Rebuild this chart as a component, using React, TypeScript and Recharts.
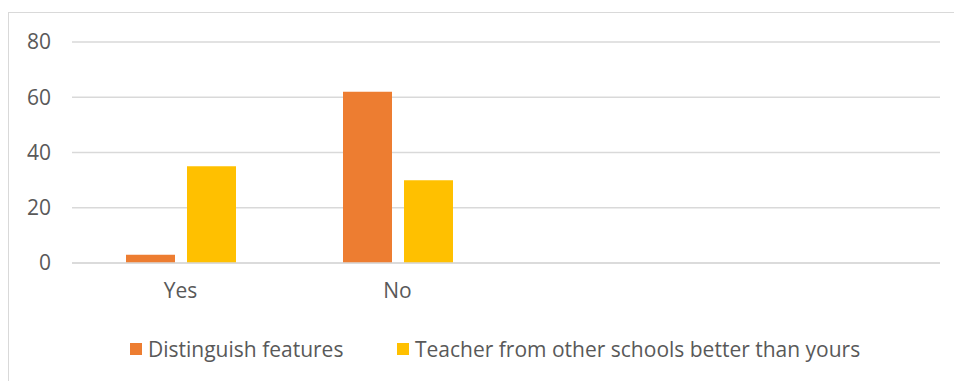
import React from "react";
import {
  BarChart,
  Bar,
  XAxis,
  YAxis,
  CartesianGrid,
  Legend,
} from "recharts";

const categories = ["Yes", "No", "", ""];
const distinguishFeatures = [3, 62, null, null];
const teacherOtherSchools = [35, 30, null, null];
const yTicks = [0, 20, 40, 60, 80];

const SERIES = [
  { key: "distinguish", name: "Distinguish features", color: "#ED7D31" },
  {
    key: "teacher",
    name: "Teacher from other schools better than yours",
    color: "#FFC000",
  },
];

const FONT = '"Open Sans", sans-serif';
const FONT_SIZE = 21;
const TEXT = "#595959";
const GRID = "#d9d9d9";

const chartData = categories.map((name, i) => ({
  name,
  distinguish: distinguishFeatures[i],
  teacher: teacherOtherSchools[i],
}));

const LegendContent: React.FC = () => (
  <div
    style={{
      position: "relative",
      height: 28,
      fontFamily: FONT,
      fontSize: FONT_SIZE,
      color: TEXT,
    }}
  >
    {SERIES.map((s, i) => (
      <div
        key={s.key}
        style={{
          position: "absolute",
          left: i === 0 ? 121 : 388,
          top: 0,
          height: 28,
          display: "flex",
          alignItems: "center",
          whiteSpace: "nowrap",
        }}
      >
        <span
          style={{
            width: 12,
            height: 12,
            background: s.color,
            marginRight: 6,
            display: "inline-block",
          }}
        />
        {s.name}
      </div>
    ))}
  </div>
);

const App: React.FC = () => {
  return (
    <div
      style={{
        position: "absolute",
        left: 8,
        top: 12,
        width: 950,
        height: 375,
        border: `1px solid ${GRID}`,
        boxSizing: "border-box",
        background: "#fff",
      }}
    >
      <BarChart
        width={948}
        height={373}
        data={chartData}
        margin={{ top: 29, right: 17, left: 1, bottom: 65 }}
        barSize={49}
        barGap={12}
      >
        <CartesianGrid vertical={false} stroke={GRID} strokeWidth={1.5} />
        <XAxis
          dataKey="name"
          height={30}
          axisLine={{ stroke: GRID, strokeWidth: 1.5 }}
          tickLine={false}
          tickSize={0}
          tickMargin={20}
          tick={{ fill: TEXT, fontSize: FONT_SIZE, fontFamily: FONT }}
        />
        <YAxis
          width={62}
          domain={[0, 80]}
          ticks={yTicks}
          axisLine={false}
          tickLine={false}
          tickSize={0}
          tickMargin={21}
          tick={{ fill: TEXT, fontSize: FONT_SIZE, fontFamily: FONT }}
        />
        <Legend
          verticalAlign="bottom"
          content={<LegendContent />}
          wrapperStyle={{ top: 322, left: 0, width: 948, height: 28 }}
        />
        {SERIES.map((s) => (
          <Bar
            key={s.key}
            dataKey={s.key}
            name={s.name}
            fill={s.color}
            isAnimationActive={false}
          />
        ))}
      </BarChart>
    </div>
  );
};

export default App;
